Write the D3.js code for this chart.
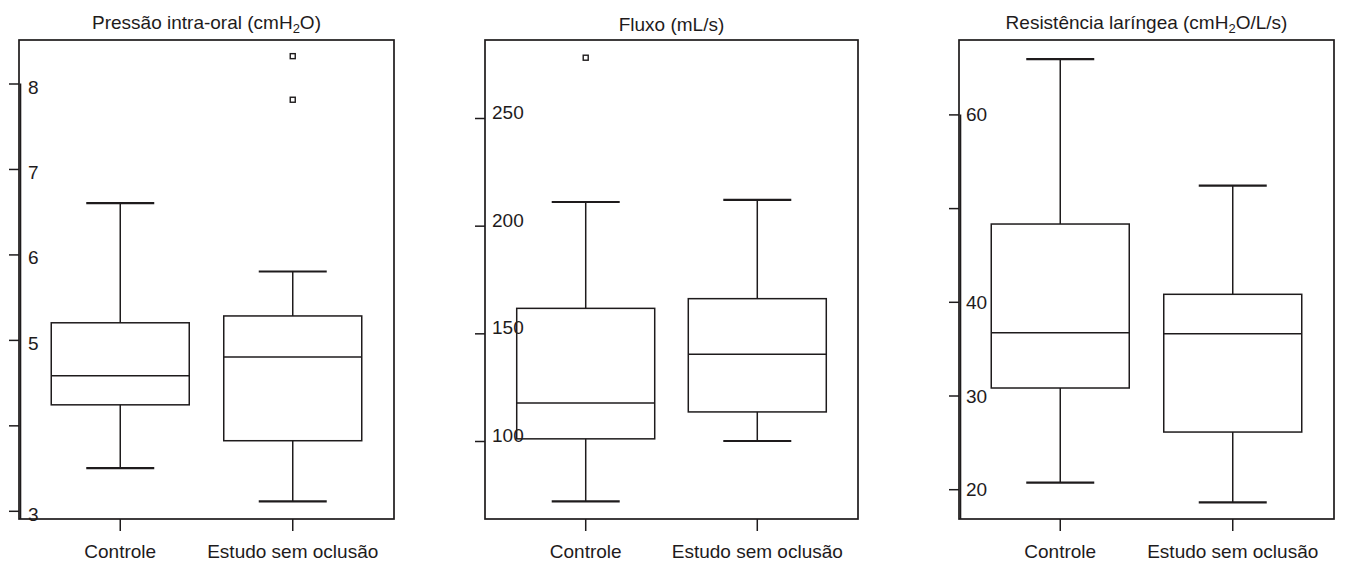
<!DOCTYPE html>
<html>
<head>
<meta charset="utf-8">
<script src="https://cdn.jsdelivr.net/npm/d3@7"></script>
<style>
  body { margin: 0; background: #fff; }
  svg { display: block; font-family: 'Liberation Sans', Arial, sans-serif; }
</style>
</head>
<body>
<div id="chart"></div>
<script>
const categories = ['Controle', 'Estudo sem oclusão'];

// box stats per group: [min, q1, median, q3, max]
const pressaoStats = [[3.5, 4.24, 4.58, 5.2, 6.6], [3.11, 3.82, 4.8, 5.28, 5.8]];
const pressaoOutliers = [[], [7.81, 8.32]];
const pressaoTicks = [3, 4, 5, 6, 7, 8];
const pressaoTickLabels = ['3', '', '5', '6', '7', '8'];

const fluxoStats = [[72, 101, 117.7, 161.6, 211], [100, 113.5, 140.3, 166.1, 212]];
const fluxoOutliers = [[278], []];
const fluxoTicks = [100, 150, 200, 250];
const fluxoTickLabels = ['100', '150', '200', '250'];

const resistStats = [[20.7, 30.8, 36.7, 48.3, 65.9], [18.6, 26.1, 36.6, 40.8, 52.4]];
const resistOutliers = [[], []];
const resistTicks = [20, 30, 40, 50, 60];
const resistTickLabels = ['20', '30', '40', '', '60'];

const width = 1356;
const height = 564;
const ink = '#1e1b1c';
const frameTop = 40;
const frameBottom = 519;

const panels = [
  {
    title: ['Pressão intra-oral (cmH', '2', 'O)'], titleY: 29,
    left: 19, right: 394, domain: [3, 8], range: [510.8, 83.5],
    stats: pressaoStats, outliers: pressaoOutliers,
    ticks: pressaoTicks, tickLabels: pressaoTickLabels,
    labelPad: 9, labelShift: 3, extraAxis: true,
  },
  {
    title: ['Fluxo (mL/s)'], titleY: 31,
    left: 485, right: 858, domain: [100, 250], range: [441, 118],
    stats: fluxoStats, outliers: fluxoOutliers,
    ticks: fluxoTicks, tickLabels: fluxoTickLabels,
    labelPad: 7, labelShift: -6, extraAxis: false,
  },
  {
    title: ['Resistência laríngea (cmH', '2', 'O/L/s)'], titleY: 29,
    left: 959, right: 1334, domain: [20, 60], range: [489.2, 114.4],
    stats: resistStats, outliers: resistOutliers,
    ticks: resistTicks, tickLabels: resistTickLabels,
    labelPad: 7, labelShift: 0, extraAxis: true,
  },
];

const svg = d3.select('#chart')
  .append('svg')
  .attr('width', width)
  .attr('height', height);

svg.append('rect').attr('width', width).attr('height', height).attr('fill', '#fff');

panels.forEach((p) => {
  const g = svg.append('g');

  const y = d3.scaleLinear().domain(p.domain).range(p.range);
  const x = d3.scalePoint()
    .domain(categories)
    .range([p.left, p.right])
    .padding(0.587);

  const boxW = 138;
  const capW = 68;

  // title with subscript
  const title = g.append('text')
    .attr('x', (p.left + p.right) / 2)
    .attr('y', p.titleY)
    .attr('text-anchor', 'middle')
    .attr('font-size', 19)
    .attr('fill', ink);
  p.title.forEach((part, i) => {
    const sub = i % 2 === 1;
    title.append('tspan')
      .attr('font-size', sub ? 13 : 19)
      .attr('dy', sub ? 4 : (i > 0 ? -4 : 0))
      .text(part);
  });

  // frame
  g.append('rect')
    .attr('x', p.left)
    .attr('y', frameTop)
    .attr('width', p.right - p.left)
    .attr('height', frameBottom - frameTop)
    .attr('fill', 'none')
    .attr('stroke', ink)
    .attr('stroke-width', 1.7);

  // y axis: ticks outside, labels inside the frame
  const axis = g.append('g')
    .attr('transform', `translate(${p.left},0)`)
    .call(
      d3.axisRight(y)
        .tickValues(p.ticks)
        .tickFormat((d, i) => p.tickLabels[i])
        .tickSizeInner(-10)
        .tickSizeOuter(0)
        .tickPadding(p.labelPad)
    );
  axis.select('.domain').remove();
  axis.selectAll('.tick line').attr('stroke', ink).attr('stroke-width', 1.5);
  axis.selectAll('.tick text')
    .attr('font-size', 19)
    .attr('font-family', "'Liberation Sans', Arial, sans-serif")
    .attr('fill', ink)
    .attr('dy', null)
    .attr('transform', `translate(0,${p.labelShift})`)
    .attr('dominant-baseline', 'central');

  if (p.extraAxis) {
    g.append('line')
      .attr('x1', p.left + 1.5)
      .attr('x2', p.left + 1.5)
      .attr('y1', y(d3.max(p.ticks)))
      .attr('y2', frameBottom)
      .attr('stroke', ink)
      .attr('stroke-width', 1.6);
  }

  // x ticks and labels
  const xg = g.append('g');
  xg.selectAll('line')
    .data(categories)
    .join('line')
    .attr('x1', (d) => x(d))
    .attr('x2', (d) => x(d))
    .attr('y1', frameBottom)
    .attr('y2', frameBottom + 12)
    .attr('stroke', ink)
    .attr('stroke-width', 1.5);
  xg.selectAll('text')
    .data(categories)
    .join('text')
    .attr('x', (d) => x(d))
    .attr('y', 558)
    .attr('text-anchor', 'middle')
    .attr('font-size', 19)
    .attr('fill', ink)
    .text((d) => d);

  // boxes
  const boxes = g.selectAll('.box')
    .data(categories.map((c, i) => ({ cat: c, s: p.stats[i], out: p.outliers[i] })))
    .join('g')
    .attr('class', 'box');

  // whiskers
  boxes.append('line')
    .attr('x1', (d) => x(d.cat)).attr('x2', (d) => x(d.cat))
    .attr('y1', (d) => y(d.s[4])).attr('y2', (d) => y(d.s[3]))
    .attr('stroke', ink).attr('stroke-width', 1.5);
  boxes.append('line')
    .attr('x1', (d) => x(d.cat)).attr('x2', (d) => x(d.cat))
    .attr('y1', (d) => y(d.s[1])).attr('y2', (d) => y(d.s[0]))
    .attr('stroke', ink).attr('stroke-width', 1.5);

  // caps
  [0, 4].forEach((k) => {
    boxes.append('line')
      .attr('x1', (d) => x(d.cat) - capW / 2)
      .attr('x2', (d) => x(d.cat) + capW / 2)
      .attr('y1', (d) => y(d.s[k]))
      .attr('y2', (d) => y(d.s[k]))
      .attr('stroke', ink)
      .attr('stroke-width', 2.2);
  });

  boxes.append('rect')
    .attr('x', (d) => x(d.cat) - boxW / 2)
    .attr('y', (d) => y(d.s[3]))
    .attr('width', boxW)
    .attr('height', (d) => y(d.s[1]) - y(d.s[3]))
    .attr('fill', 'none')
    .attr('stroke', ink)
    .attr('stroke-width', 1.5);

  // median
  boxes.append('line')
    .attr('x1', (d) => x(d.cat) - boxW / 2)
    .attr('x2', (d) => x(d.cat) + boxW / 2)
    .attr('y1', (d) => y(d.s[2]))
    .attr('y2', (d) => y(d.s[2]))
    .attr('stroke', ink)
    .attr('stroke-width', 1.5);

  // outliers
  boxes.each(function (d) {
    d3.select(this)
      .selectAll('.outlier')
      .data(d.out)
      .join('rect')
      .attr('class', 'outlier')
      .attr('x', x(d.cat) - 2.5)
      .attr('y', (v) => y(v) - 2.5)
      .attr('width', 5)
      .attr('height', 5)
      .attr('fill', '#fff')
      .attr('stroke', ink)
      .attr('stroke-width', 1.4);
  });
});
</script>
</body>
</html>
